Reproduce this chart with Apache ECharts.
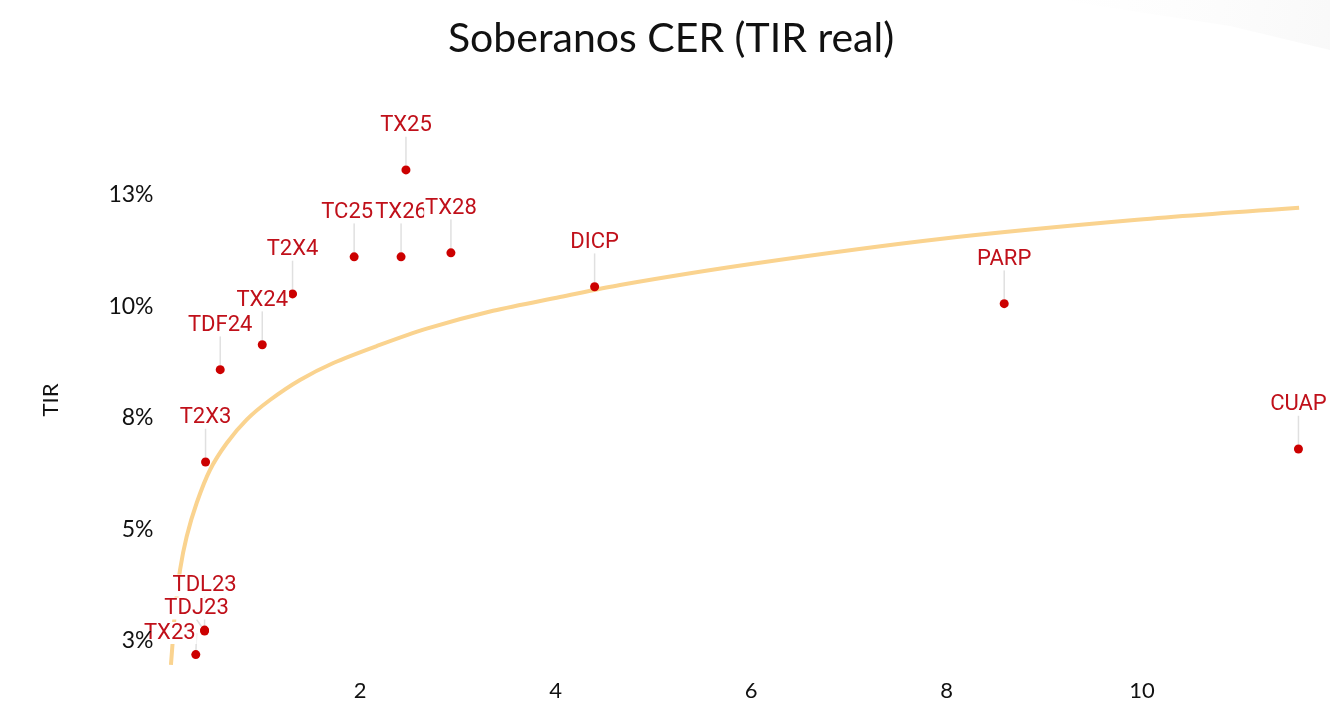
<!DOCTYPE html>
<html>
<head>
<meta charset="utf-8">
<script src="https://cdn.jsdelivr.net/npm/echarts@6/dist/echarts.min.js"></script>
<style>
html,body{margin:0;padding:0;background:#fff;}
#c{width:1330px;height:701px;}
</style>
</head>
<body>
<div id="c"></div>
<script>
// ---- data ----
const bondNames = ['TX23','TDJ23','TDL23','T2X3','TDF24','TX24','T2X4','TC25P','TX26','TX25','TX28','DICP','PARP','CUAP'];
const bondDuration = [0.32, 0.41, 0.41, 0.42, 0.57, 1.00, 1.31, 1.94, 2.42, 2.47, 2.93, 4.40, 8.59, 11.60];
const bondTIR = [2.19, 2.72, 2.74, 6.51, 8.58, 9.14, 10.28, 11.11, 11.11, 13.06, 11.20, 10.44, 10.06, 6.80];

// trend curve
const trendX = [0.066, 0.087, 0.107, 0.159, 0.227, 0.329, 0.465, 0.636, 0.841, 1.079, 1.386, 1.727, 2.171, 2.682, 3.361, 4.046, 4.660, 6.0, 7.933, 9.95, 11.607];
const trendY = [1.96, 2.57, 3.15, 4.09, 4.84, 5.59, 6.33, 6.93, 7.46, 7.90, 8.35, 8.73, 9.11, 9.50, 9.90, 10.21, 10.48, 10.95, 11.51, 11.94, 12.21];

const yTicks = [2.5, 5, 7.5, 10, 12.5];

// label placement tweaks (styling only)
const labelShift = { TX23: [-26, -6], TDJ23: [-8, -7] };

const scatterData = bondNames.map((n, i) => ({ name: n, value: [bondDuration[i], bondTIR[i]] }));
const trendData = trendX.map((x, i) => [x, trendY[i]]);

const chart = echarts.init(document.getElementById('c'));
chart.setOption({
  backgroundColor: '#fff',
  animation: false,
  title: {
    text: 'Soberanos CER (TIR real)',
    left: 443,
    top: 13,
    textStyle: { fontFamily: 'Lato', fontWeight: 'normal', fontSize: 41, color: '#111' }
  },
  graphic: [{
    type: 'polygon',
    silent: true,
    shape: { points: [[1060, 0], [1330, 0], [1330, 50], [1230, 26]] },
    style: {
      fill: new echarts.graphic.LinearGradient(0, 0, 1, 1, [
        { offset: 0, color: 'rgba(240,240,240,0)' },
        { offset: 1, color: 'rgba(230,230,230,0.25)' }
      ])
    }
  }],
  grid: { left: 164.5, right: 12, top: 128, bottom: 29, containLabel: false, outerBoundsMode: 'none' },
  xAxis: {
    type: 'value',
    min: 0,
    max: 11.8,
    interval: 2,
    axisLine: { show: false },
    axisTick: { show: false },
    splitLine: { show: false },
    axisLabel: {
      showMinLabel: false,
      showMaxLabel: false,
      margin: 8,
      fontFamily: 'Lato', fontSize: 22, color: '#111'
    }
  },
  yAxis: {
    type: 'value',
    min: 1.8,
    max: 14,
    z: 10,
    name: 'TIR',
    nameLocation: 'middle',
    nameGap: 103,
    nameTextStyle: { fontFamily: 'Lato', fontSize: 22, color: '#111' },
    axisLine: { show: false },
    axisTick: { show: false },
    splitLine: { show: false },
    axisLabel: {
      customValues: yTicks,
      margin: 11,
      fontFamily: 'Lato', fontSize: 23, color: '#111',
      formatter: v => Math.round(v) + '%'
    }
  },
  series: [
    {
      type: 'line',
      data: trendData,
      smooth: 0.3,
      showSymbol: false,
      lineStyle: { color: '#fad38f', width: 4 },
      z: 1
    },
    {
      type: 'scatter',
      data: scatterData,
      symbolSize: 9,
      itemStyle: { color: '#cc0000', opacity: 1 },
      z: 3,
      label: {
        show: true,
        position: 'top',
        distance: 0,
        formatter: p => p.name,
        fontFamily: 'Roboto', fontSize: 22, color: '#c0101a',
        backgroundColor: '#fff',
        padding: [0, 1]
      },
      labelLine: { show: true, lineStyle: { color: '#e0e0e0', width: 1.5 } },
      labelLayout: function (params) {
        const name = bondNames[params.dataIndex];
        const s = labelShift[name] || [0, -29];
        return { dx: s[0], dy: s[1] };
      }
    }
  ]
});
</script>
</body>
</html>
